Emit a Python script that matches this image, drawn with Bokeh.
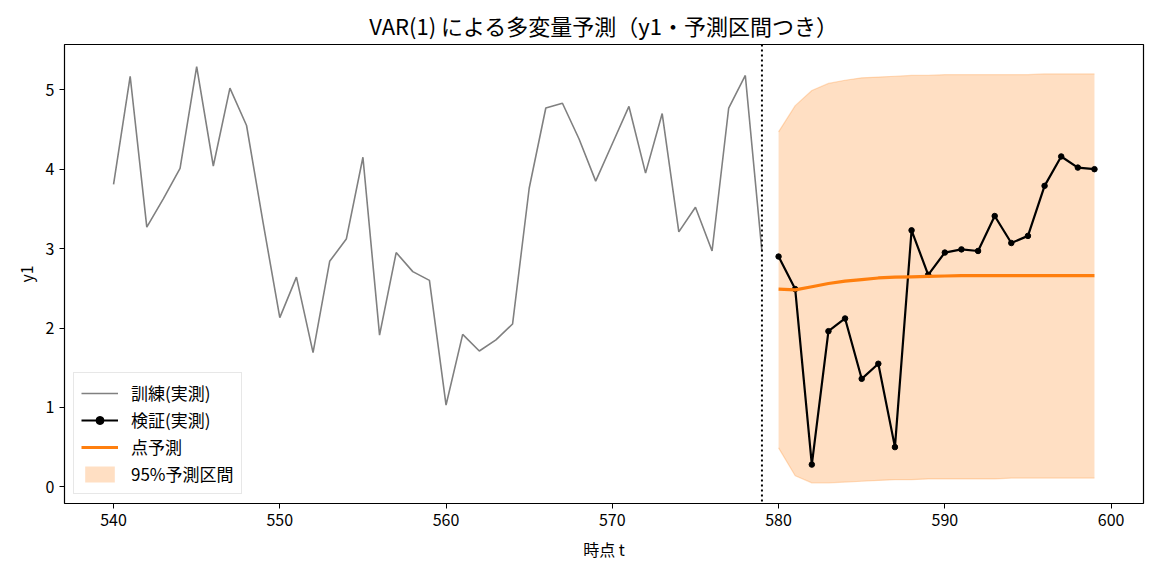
from bokeh.plotting import figure
from bokeh.models import ColumnDataSource, Span, SingleIntervalTicker, Range1d, Legend, LegendItem
from bokeh.embed import file_html
from bokeh.resources import INLINE

FONT = "Noto Sans CJK JP"

# 訓練データ (t = 540..579)
t_train = list(range(540, 580))
y_train = [3.81, 5.17, 3.27, 3.63, 4.01, 5.29, 4.04, 5.02, 4.55, 3.32,
           2.13, 2.64, 1.69, 2.84, 3.12, 4.15, 1.91, 2.95, 2.71, 2.60,
           1.03, 1.92, 1.71, 1.85, 2.05, 3.76, 4.77, 4.83, 4.38, 3.85,
           4.32, 4.79, 3.95, 4.70, 3.21, 3.52, 2.97, 4.77, 5.18, 2.96]

# 検証データ (t = 580..599)
t_test = list(range(580, 600))
y_test = [2.90, 2.49, 0.28, 1.96, 2.12, 1.36, 1.55, 0.50, 3.23, 2.67,
          2.95, 2.99, 2.97, 3.41, 3.07, 3.16, 3.79, 4.16, 4.02, 4.00]

# 点予測と95%予測区間
y_fc = [2.49, 2.48, 2.52, 2.56, 2.59, 2.61, 2.63, 2.64, 2.645, 2.65,
        2.655, 2.66, 2.66, 2.66, 2.66, 2.66, 2.66, 2.66, 2.66, 2.66]
y_lo = [0.49, 0.14, 0.05, 0.05, 0.06, 0.07, 0.08, 0.09, 0.09, 0.10,
        0.10, 0.10, 0.10, 0.10, 0.11, 0.11, 0.11, 0.11, 0.11, 0.11]
y_hi = [4.47, 4.80, 4.99, 5.08, 5.12, 5.15, 5.16, 5.17, 5.18, 5.18,
        5.19, 5.19, 5.19, 5.19, 5.19, 5.19, 5.20, 5.20, 5.20, 5.20]

split_t = 579

src_train = ColumnDataSource(data=dict(t=t_train, y=y_train))
src_test = ColumnDataSource(data=dict(t=t_test, y=y_test, fc=y_fc, lo=y_lo, hi=y_hi))

p = figure(width=1148, height=564, output_backend="svg", toolbar_location=None,
           title="VAR(1) による多変量予測（y1・予測区間つき）",
           x_range=Range1d(537.05, 601.95), y_range=Range1d(-0.21, 5.57),
           min_border_left=64, min_border_right=5, min_border_top=44, min_border_bottom=61)

p.title.align = "center"
p.title.text_font = FONT
p.title.text_font_size = "22px"
p.title.text_font_style = "normal"
p.title.text_color = "black"
p.title.standoff = 8

p.outline_line_color = "black"
p.outline_line_width = 1.2
p.grid.grid_line_color = None

p.xaxis.ticker = SingleIntervalTicker(interval=10, num_minor_ticks=0)
p.yaxis.ticker = SingleIntervalTicker(interval=1, num_minor_ticks=0)
for ax in [p.xaxis, p.yaxis]:
    ax.major_tick_out = 5
    ax.major_tick_in = 0
    ax.minor_tick_line_color = None
    ax.axis_line_color = None
    ax.major_tick_line_color = "black"
    ax.major_label_text_font = FONT
    ax.major_label_text_font_size = "16px"
    ax.major_label_text_color = "black"
    ax.axis_label_text_font = FONT
    ax.axis_label_text_font_size = "16px"
    ax.axis_label_text_font_style = "normal"
    ax.axis_label_text_color = "black"
p.xaxis.axis_label = "時点 t"
p.yaxis.axis_label = "y1"
p.xaxis.axis_label_standoff = 8

# 予測区間
band = p.varea(x="t", y1="lo", y2="hi", source=src_test, fill_color="#ff7f0e", fill_alpha=0.25)
p.line(x="t", y="hi", source=src_test, line_color="#ff7f0e", line_alpha=0.25, line_width=1.2)
p.line(x="t", y="lo", source=src_test, line_color="#ff7f0e", line_alpha=0.25, line_width=1.2)

r_train = p.line(x="t", y="y", source=src_train, line_color="gray", line_width=1.6)
r_test = p.line(x="t", y="y", source=src_test, line_color="black", line_width=2.2)
r_pts = p.scatter(x="t", y="y", source=src_test, size=5.5, fill_color="black", line_color="black")
r_fc = p.line(x="t", y="fc", source=src_test, line_color="#ff7f0e", line_width=3.2)

p.add_layout(Span(location=split_t, dimension="height", line_color="black",
                  line_dash="2 3", line_width=2))

legend = Legend(items=[
    LegendItem(label="訓練(実測)", renderers=[r_train]),
    LegendItem(label="検証(実測)", renderers=[r_test, r_pts]),
    LegendItem(label="点予測", renderers=[r_fc]),
    LegendItem(label="95%予測区間", renderers=[band]),
], location="bottom_left")
legend.label_text_font = FONT
legend.label_text_font_size = "17px"
legend.label_text_color = "black"
legend.label_height = 20
legend.border_line_color = "#d0d0d0"
legend.background_fill_alpha = 0.8
legend.glyph_width = 37
legend.glyph_height = 20
legend.spacing = 2
legend.padding = 7
legend.margin = 9
legend.label_standoff = 13
p.add_layout(legend)

open("out.html", "w").write(file_html(p, INLINE))
